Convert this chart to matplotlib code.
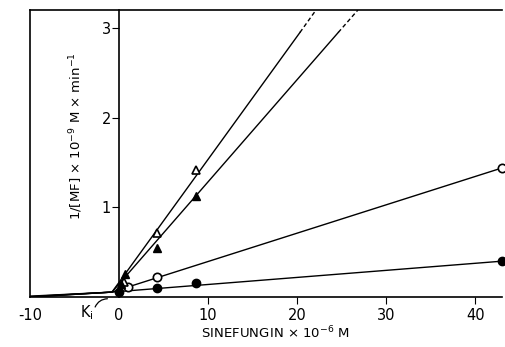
import matplotlib.pyplot as plt
import numpy as np

# measured points
oc_x = [1.0, 4.3, 43.0]
oc_y = [0.11, 0.22, 1.44]
fc_x = [0.0, 4.3, 8.6, 43.0]
fc_y = [0.06, 0.10, 0.16, 0.40]
ot_x = [0.5, 4.3, 8.6]
ot_y = [0.17, 0.71, 1.42]
ft_x = [0.2, 0.7, 4.3, 8.6]
ft_y = [0.14, 0.26, 0.55, 1.13]

# fitted lines: left end, intersection, right end
xi, yi = -0.8, 0.055
oc_line_x = [-10, xi, 43.0]
oc_line_y = [0.0, yi, 1.44]
fc_line_x = [-10, xi, 43.0]
fc_line_y = [0.01, yi, 0.40]
ot_line_x = [-10, xi, 20.3, 22.1]
ot_line_y = [0.005, yi, 2.95, 3.2]
ft_line_x = [-10, xi, 24.6, 26.8]
ft_line_y = [0.0, yi, 2.95, 3.2]

fig = plt.figure(figsize=(5.05, 3.47), dpi=100)
ax = fig.add_axes([0.0594, 0.144, 0.935, 0.827])
ax.set_xlim(-10, 43)
ax.set_ylim(0, 3.2)

for lx, ly in [(oc_line_x, oc_line_y), (fc_line_x, fc_line_y)]:
    ax.plot(lx, ly, color="black", lw=1.0)
for lx, ly in [(ot_line_x, ot_line_y), (ft_line_x, ft_line_y)]:
    ax.plot(lx[:3], ly[:3], color="black", lw=1.0)
    ax.plot(lx[2:], ly[2:], color="black", lw=1.0, ls=(0, (3, 2)))

ax.plot(oc_x, oc_y, "o", mfc="white", mec="black", mew=1.2, ms=6, clip_on=False, zorder=5)
ax.plot(fc_x, fc_y, "o", mfc="black", mec="black", ms=6, clip_on=False, zorder=5)
ax.plot(ot_x, ot_y, "^", mfc="white", mec="black", mew=1.2, ms=6, zorder=5)
ax.plot(ft_x, ft_y, "^", mfc="black", mec="black", ms=6, zorder=5)

# axes frame
ax.spines["right"].set_visible(False)
ax.spines["left"].set_position(("data", 0))
ax.axvline(-10, color="black", lw=1.2, clip_on=False)
for s in ["left", "top", "bottom"]:
    ax.spines[s].set_linewidth(1.2)

ax.set_yticks([1, 2, 3])
ax.set_yticklabels(["1", "2", "3"], fontsize=10.5)
ax.tick_params(axis="y", direction="out", length=5, pad=1)
ax.set_xticks([-10, 0, 10, 20, 30, 40])
ax.set_xticklabels(["-10", "0", "10", "20", "30", "40"], fontsize=10.5)
ax.tick_params(axis="x", direction="out", length=5, pad=3)
ax.xaxis.get_major_ticks()[0].tick1line.set_visible(False)
ax.xaxis.get_major_ticks()[1].tick1line.set_visible(False)

ax.text(0.097, 0.56, r"1/[MF] $\times$ 10$^{-9}$ M $\times$ min$^{-1}$",
        transform=ax.transAxes, rotation=90, fontsize=9.5, ha="center", va="center")
ax.text(0.52, -0.127, r"SINEFUNGIN $\times$ 10$^{-6}$ M",
        transform=ax.transAxes, fontsize=9.5, ha="center", va="center")

ax.text(-3.6, -0.17, r"K$_\mathregular{i}$", fontsize=10.5, ha="center", va="center", clip_on=False)
ax.annotate("", xy=(-1.0, -0.02), xytext=(-2.8, -0.14),
            arrowprops=dict(arrowstyle="-", lw=0.9, connectionstyle="arc3,rad=-0.4"),
            annotation_clip=False)

fig.savefig("out.png", dpi=100)
